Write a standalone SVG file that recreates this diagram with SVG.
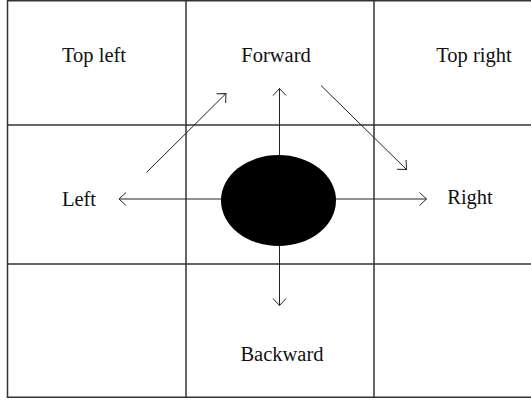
<svg xmlns="http://www.w3.org/2000/svg" width="531" height="402" viewBox="0 0 531 402">
<style>
.grid{fill:none;stroke:#333;stroke-width:1.5}
.arr{fill:none;stroke:#222;stroke-width:1;marker-end:url(#ah)}
text{font-family:"Liberation Serif","Times New Roman",serif;font-size:20.5px;fill:#111;text-anchor:middle}
</style>
<defs>
<marker id="ah" markerUnits="userSpaceOnUse" markerWidth="20" markerHeight="20" viewBox="-10 -10 20 20" refX="0" refY="0" orient="auto">
<path d="M-7,-6.5 L0,0 L-7,6.5" fill="none" stroke="#222" stroke-width="1"/>
</marker>
</defs>
<rect width="531" height="402" fill="#fff"/>
<g id="grid">
<rect class="grid" x="7.5" y="0.75" width="540" height="396.5"/>
<line class="grid" x1="186" y1="0" x2="186" y2="397"/>
<line class="grid" x1="374" y1="0" x2="374" y2="397"/>
<line class="grid" x1="7" y1="125" x2="531" y2="125"/>
<line class="grid" x1="7" y1="264" x2="531" y2="264"/>
</g>
<g id="connectors">
<line class="arr" x1="279.5" y1="199" x2="119" y2="199"/>
<line class="arr" x1="279.5" y1="199" x2="426.5" y2="199"/>
<line class="arr" x1="279.5" y1="199" x2="279.5" y2="88.5"/>
<line class="arr" x1="279.5" y1="199" x2="279.5" y2="305.5"/>
<line class="arr" x1="146.5" y1="172.5" x2="226" y2="93.5"/>
<line class="arr" x1="321" y1="85.5" x2="406.5" y2="169.5"/>
</g>
<g id="robot">
<ellipse cx="278.5" cy="200.5" rx="57.5" ry="45.5" fill="#000"/>
</g>
<g id="label-topleft"><text x="94" y="61.5">Top left</text></g>
<g id="label-forward"><text x="276" y="61.5">Forward</text></g>
<g id="label-topright"><text x="474" y="61.5">Top right</text></g>
<g id="label-left"><text x="79" y="206">Left</text></g>
<g id="label-right"><text x="470" y="203.5">Right</text></g>
<g id="label-backward"><text x="282" y="360.5">Backward</text></g>
</svg>
